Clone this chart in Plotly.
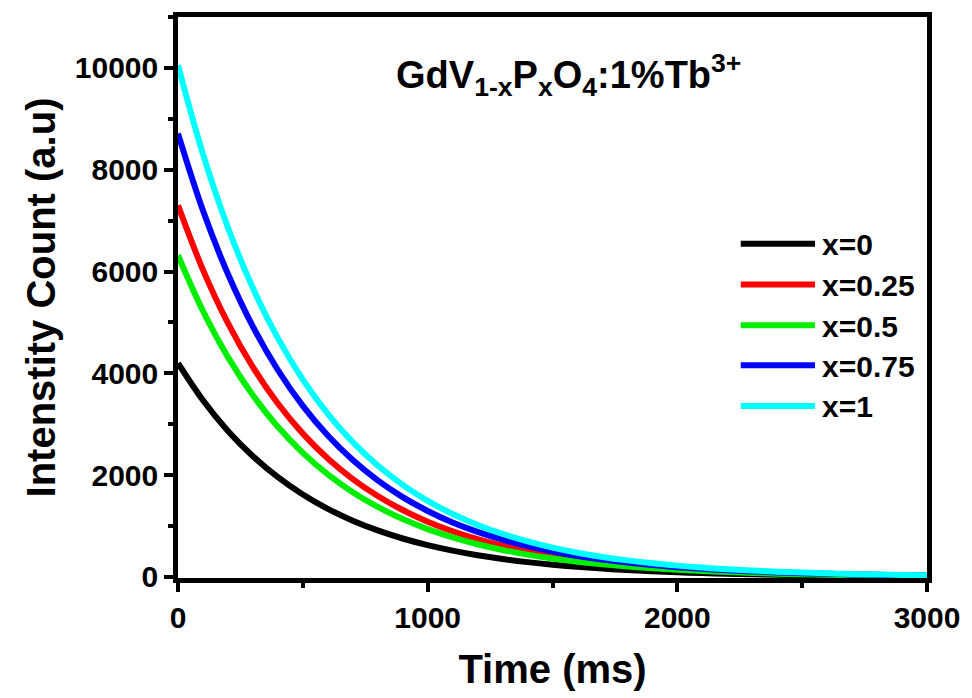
import plotly.graph_objects as go

time_ms = [0, 100, 200, 300, 400, 500, 600, 700, 800, 900, 1000, 1100, 1200, 1300, 1400, 1500,
           1600, 1700, 1800, 1900, 2000, 2100, 2200, 2300, 2400, 2500, 2600, 2700, 2800, 2900, 3000]

x0 = [4200, 3472, 2869, 2372, 1960, 1620, 1339, 1107, 915, 756, 625, 517, 427, 353, 292, 241,
      199, 165, 136, 113, 93, 77, 64, 53, 43, 36, 30, 25, 20, 17, 14]
x025 = [7300, 6034, 4987, 4122, 3407, 2816, 2328, 1924, 1591, 1315, 1087, 898, 742, 614, 507, 419,
        347, 286, 237, 196, 162, 134, 111, 91, 76, 62, 52, 43, 35, 29, 24]
x05 = [6320, 5224, 4318, 3569, 2950, 2438, 2015, 1666, 1377, 1138, 941, 778, 643, 531, 439, 363,
       300, 248, 205, 169, 140, 116, 96, 79, 65, 54, 45, 37, 31, 25, 21]
x075 = [8710, 7199, 5951, 4919, 4066, 3360, 2778, 2296, 1898, 1569, 1297, 1072, 886, 732, 605, 500,
        413, 342, 283, 234, 193, 160, 132, 109, 90, 75, 62, 51, 42, 35, 29]
x1 = [10050, 8307, 6866, 5675, 4691, 3877, 3205, 2649, 2190, 1810, 1496, 1237, 1022, 845, 698, 577,
      477, 394, 326, 269, 223, 184, 152, 126, 104, 86, 71, 59, 49, 40, 33]

series_names = ["x=0", "x=0.25", "x=0.5", "x=0.75", "x=1"]
series_values = [x0, x025, x05, x075, x1]
series_colors = ["#000000", "#FF0000", "#00EE00", "#0000FF", "#00FFFF"]

x_ticks = [0, 1000, 2000, 3000]
y_ticks = [0, 2000, 4000, 6000, 8000, 10000]

W, H = 972, 698
L, R, T, B = 178, 38, 16, 118
pw, ph = W - L - R, H - T - B

def px2paper(px, py):
    return (px - L) / pw, (H - B - py) / ph

FONT = "Liberation Sans, Arial, sans-serif"

fig = go.Figure()
for name, vals, col in zip(series_names, series_values, series_colors):
    fig.add_trace(go.Scatter(x=time_ms, y=vals, mode="lines", name=name,
                             line=dict(color=col, width=6, shape="spline"),
                             showlegend=False))

# manual legend
leg_y = [244, 285, 326, 366, 407]
for name, col, py in zip(series_names, series_colors, leg_y):
    xa, ya = px2paper(746, py)
    xb, _ = px2paper(821, py)
    fig.add_shape(type="line", xref="paper", yref="paper", x0=xa, x1=xb, y0=ya, y1=ya,
                  line=dict(color=col, width=6))
    xt, _ = px2paper(826, py + 1)
    fig.add_annotation(xref="paper", yref="paper", x=xt, y=_ if False else px2paper(0, py + 1)[1],
                       text="<b>%s</b>" % name,
                       showarrow=False, xanchor="left", yanchor="middle",
                       font=dict(family=FONT, size=30, color="black"))

ax, ay = px2paper(572, 74)
fig.add_annotation(xref="paper", yref="paper", x=ax, y=ay,
                   text="<b>GdV<sub>1-x</sub>P<sub>x</sub>O<sub>4</sub>:1%Tb<sup>3+</sup></b>",
                   showarrow=False, xanchor="center", yanchor="middle",
                   font=dict(family=FONT, size=38, color="black"))

axis_common = dict(showline=True, linecolor="black", linewidth=4.5, mirror=True,
                   ticks="outside", ticklen=9, tickwidth=4, tickcolor="black",
                   showgrid=False, zeroline=False,
                   tickfont=dict(family=FONT, size=30, color="black"))

fig.update_xaxes(range=[0, 3000], tickvals=x_ticks, ticktext=["<b>%d</b>" % v for v in x_ticks],
                 minor=dict(ticks="outside", ticklen=5, tickwidth=4, dtick=500, tickcolor="black"),
                 title=dict(text="<b>Time (ms)</b>", font=dict(family=FONT, size=40, color="black"), standoff=24),
                 **axis_common)
fig.update_yaxes(range=[-20, 11000], tickvals=y_ticks, ticktext=["<b>%d</b>" % v for v in y_ticks],
                 minor=dict(ticks="outside", ticklen=5, tickwidth=4, dtick=1000, tickcolor="black"),
                 title=dict(text="<b>Intenstity Count (a.u)</b>", font=dict(family=FONT, size=40, color="black"), standoff=8),
                 **axis_common)

fig.update_layout(width=W, height=H, margin=dict(l=L, r=R, t=T, b=B),
                  paper_bgcolor="white", plot_bgcolor="white")

fig.write_html("out.html")
